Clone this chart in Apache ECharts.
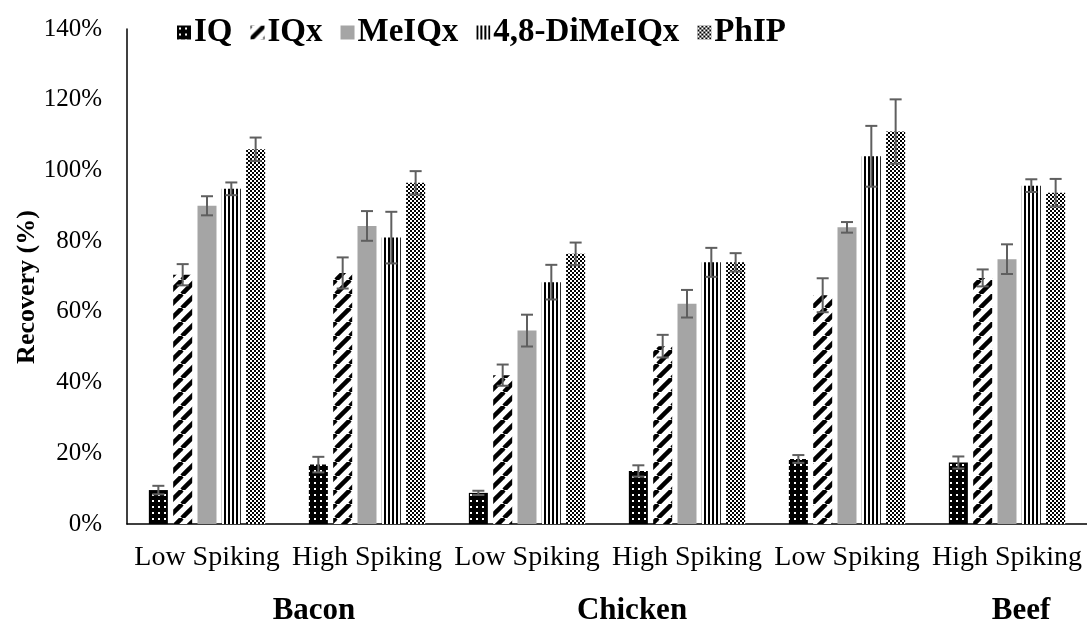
<!DOCTYPE html>
<html>
<head>
<meta charset="utf-8">
<script src="https://cdn.jsdelivr.net/npm/echarts@6/dist/echarts.min.js"></script>
<style>
  html, body { margin: 0; padding: 0; background: #fff; }
  #chart { width: 1087px; height: 626px; }
</style>
</head>
<body>
<div id="chart"></div>
<script>
// Recovery of heterocyclic amines from spiked meat samples
const categories = ['Low Spiking', 'High Spiking', 'Low Spiking', 'High Spiking', 'Low Spiking', 'High Spiking'];
const groupNames = ['Bacon', 'Chicken', 'Beef'];
const seriesNames = ['IQ', 'IQx', 'MeIQx', '4,8-DiMeIQx', 'PhIP'];

const iq = [9.6, 16.8, 8.8, 15.0, 18.4, 17.4];
const iqErr = [1.2, 2.2, 0.6, 1.6, 1.1, 1.7];
const iqx = [70.5, 71.0, 42.1, 50.3, 64.7, 69.6];
const iqxErr = [3.0, 4.4, 3.0, 3.2, 4.8, 2.4];
const meiqx = [90.0, 84.3, 54.7, 62.3, 83.9, 74.9];
const meiqxErr = [2.7, 4.2, 4.5, 3.9, 1.5, 4.2];
const dimeiqx = [94.8, 81.0, 68.4, 74.0, 104.0, 95.7];
const dimeiqxErr = [1.8, 7.3, 4.9, 4.1, 8.6, 1.8];
const phip = [106.0, 96.5, 76.4, 74.0, 111.0, 93.7];
const phipErr = [3.3, 3.3, 3.2, 2.6, 9.1, 3.9];

const yTicks = [0, 20, 40, 60, 80, 100, 120, 140];

const FONT = "'Liberation Serif', 'Times New Roman', serif";

// Fill patterns for the bars
function tile(w, h, draw) {
  const c = document.createElement('canvas');
  c.width = w; c.height = h;
  const g = c.getContext('2d');
  draw(g, w, h);
  return c;
}
const dotted = tile(6, 6, (g, w, h) => {
  g.fillStyle = '#000'; g.fillRect(0, 0, w, h);
  g.fillStyle = '#fff'; g.fillRect(2, 2, 2, 2);
});
const diagonal = tile(14, 14, (g, w, h) => {
  g.fillStyle = '#fff'; g.fillRect(0, 0, w, h);
  g.strokeStyle = '#000'; g.lineWidth = 4.5;
  for (let k = -1; k <= 1; k++) {
    g.beginPath();
    g.moveTo(k * w, h);
    g.lineTo(k * w + w, 0);
    g.stroke();
  }
});
const vertical = tile(4, 4, (g, w, h) => {
  g.fillStyle = '#fff'; g.fillRect(0, 0, w, h);
  g.fillStyle = '#000'; g.fillRect(0, 0, 2, h);
});
const checker = tile(4, 4, (g, w, h) => {
  g.fillStyle = '#fff'; g.fillRect(0, 0, w, h);
  g.fillStyle = '#000'; g.fillRect(0, 0, 2, 2); g.fillRect(2, 2, 2, 2);
});

const fills = [
  { image: dotted, repeat: 'repeat' },
  { image: diagonal, repeat: 'repeat' },
  '#a5a5a5',
  { image: vertical, repeat: 'repeat' },
  { image: checker, repeat: 'repeat' }
];
const values = [iq, iqx, meiqx, dimeiqx, phip];
const errors = [iqErr, iqxErr, meiqxErr, dimeiqxErr, phipErr];

const BAR_W = 19;
const BAR_GAP = '28%';

const barSeries = seriesNames.map((name, si) => ({
  name: name,
  type: 'bar',
  data: values[si],
  barWidth: BAR_W,
  barGap: BAR_GAP,
  itemStyle: { color: fills[si] },
  z: 2
}));

// Error bars positioned on the matching bar of each group
const errorSeries = seriesNames.map((name, si) => ({
  type: 'custom',
  name: name + ' error',
  data: values[si].map((v, i) => [i, v, errors[si][i]]),
  encode: { x: 0, y: 1 },
  z: 5,
  silent: true,
  renderItem: function (params, api) {
    const idx = api.value(0);
    const v = api.value(1);
    const e = api.value(2);
    const layout = api.barLayout({ count: seriesNames.length, barWidth: BAR_W, barGap: BAR_GAP });
    const off = layout[si].offsetCenter;
    const top = api.coord([idx, v + e]);
    const bot = api.coord([idx, v - e]);
    const x = top[0] + off;
    const half = 6;
    const style = { stroke: '#5f5f5f', lineWidth: 2, fill: null };
    return {
      type: 'group',
      children: [
        { type: 'line', shape: { x1: x, y1: top[1], x2: x, y2: bot[1] }, style: style },
        { type: 'line', shape: { x1: x - half, y1: top[1], x2: x + half, y2: top[1] }, style: style },
        { type: 'line', shape: { x1: x - half, y1: bot[1], x2: x + half, y2: bot[1] }, style: style }
      ]
    };
  }
}));

const chart = echarts.init(document.getElementById('chart'), null, { renderer: 'canvas' });

const groupFont = "bold 31px 'Liberation Serif', 'Times New Roman', serif";

chart.setOption({
  animation: false,
  backgroundColor: '#fff',
  textStyle: { fontFamily: FONT },
  grid: { left: 127, right: 0, top: 29, bottom: 102, containLabel: false },
  legend: {
    data: seriesNames,
    left: 172,
    top: 11,
    icon: 'rect',
    itemWidth: 14,
    itemHeight: 14,
    itemGap: 18,
    textStyle: { fontFamily: FONT, fontSize: 33, fontWeight: 'bold', color: '#000', padding: [0, 0, 0, -2] }
  },
  xAxis: {
    type: 'category',
    data: categories,
    axisLine: { lineStyle: { color: '#000', width: 1.5 } },
    axisTick: { show: false },
    axisLabel: { fontFamily: FONT, fontSize: 28, color: '#000', margin: 20, interval: 0 }
  },
  yAxis: {
    type: 'value',
    min: yTicks[0],
    max: yTicks[yTicks.length - 1],
    interval: yTicks[1] - yTicks[0],
    axisLine: { show: true, lineStyle: { color: '#000', width: 1.5 } },
    axisTick: { show: false },
    splitLine: { show: false },
    axisLabel: { fontFamily: FONT, fontSize: 25, color: '#000', margin: 25, formatter: '{value}%' }
  },
  graphic: [
    {
      type: 'text',
      x: 27, y: 287,
      rotation: Math.PI / 2,
      style: {
        text: 'Recovery (%)',
        font: "bold 26px 'Liberation Serif', 'Times New Roman', serif",
        fill: '#000',
        textAlign: 'center',
        textVerticalAlign: 'middle'
      }
    },
    {
      type: 'text', x: 314, y: 611,
      style: { text: groupNames[0], font: groupFont, fill: '#000', textAlign: 'center', textVerticalAlign: 'middle' }
    },
    {
      type: 'text', x: 632, y: 611,
      style: { text: groupNames[1], font: groupFont, fill: '#000', textAlign: 'center', textVerticalAlign: 'middle' }
    },
    {
      type: 'text', x: 1021, y: 611,
      style: { text: groupNames[2], font: groupFont, fill: '#000', textAlign: 'center', textVerticalAlign: 'middle' }
    }
  ],
  series: barSeries.concat(errorSeries)
});
</script>
</body>
</html>
